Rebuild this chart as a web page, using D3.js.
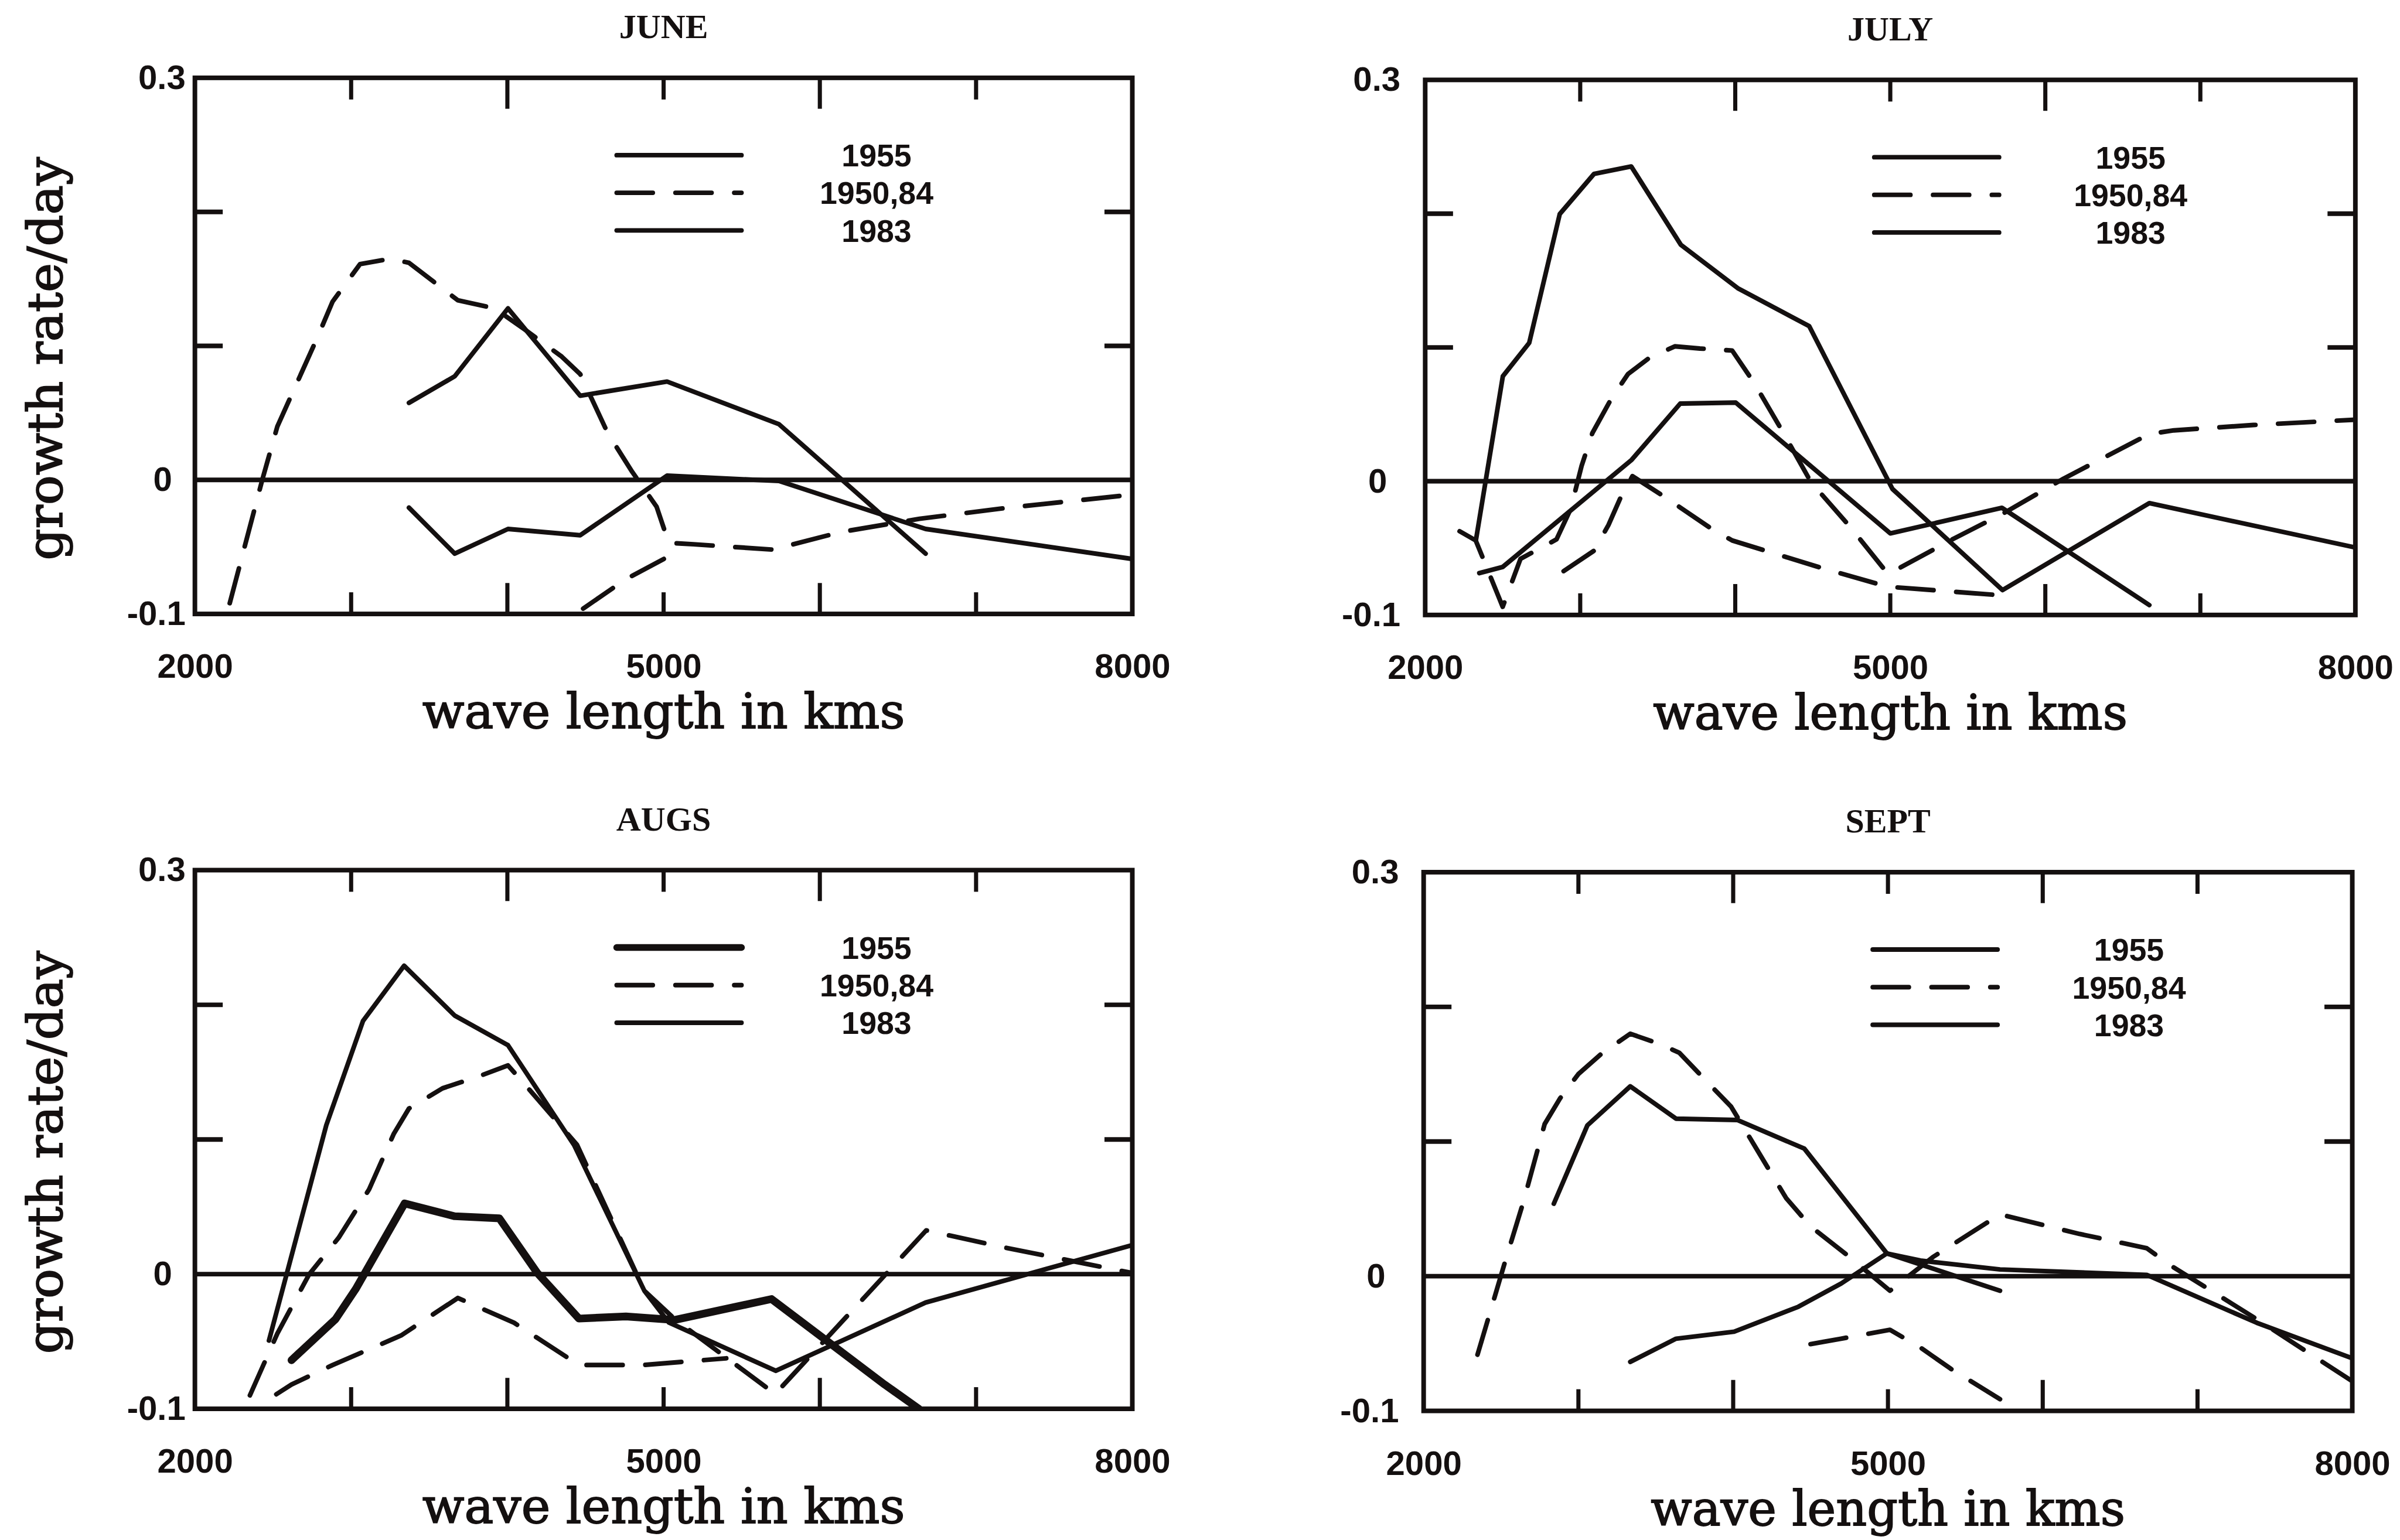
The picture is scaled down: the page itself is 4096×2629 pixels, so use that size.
<!DOCTYPE html>
<html>
<head>
<meta charset="utf-8">
<script src="https://cdn.jsdelivr.net/npm/d3@7"></script>
<style>
  html, body { margin: 0; padding: 0; background: #fff; }
  svg { display: block; }
</style>
</head>
<body>
<svg id="chart"></svg>
<script>
// growth rate vs wave length, four months

const months = ["JUNE", "JULY", "AUGS", "SEPT"];
const legendLabels = ["1955", "1950,84", "1983"];
const xTicks = [3000, 4000, 5000, 6000, 7000];
const xTickLabels = [2000, 5000, 8000];
const yTicks = [0.2, 0.1];
const yTickValues = [0.3, 0, -0.1];
const yTickLabels = ["0.3", "0", "-0.1"];

// JUNE
const june1955 = [[3370,0.0575],[3663,0.0773],[4004,0.128],[4466,0.0628],[5022,0.0734],[5738,0.0416],[6677,-0.055]];
const june1983 = [[3370,-0.0207],[3663,-0.055],[4004,-0.0366],[4466,-0.0413],[5022,0.0032],[5738,-0.0008],[6677,-0.0366],[8000,-0.059]];
const june1950 = [[2223,-0.092],[2431,0],[2528,0.040],[2783,0.106],[2881,0.133],[3057,0.161],[3252,0.165],[3370,0.162],
  [3683,0.134],[3918,0.128],[4114,0.112],[4348,0.092],[4466,0.079],[4642,0.035],[4799,0.006],[4955,-0.020],[5033,-0.047],
  [5190,-0.048],[5699,-0.052],[6129,-0.039],[6638,-0.029],[7186,-0.021],[8000,-0.011]];
const june1984 = [[4485,-0.096],[4759,-0.074],[5033,-0.057]];

// JULY
const july1955 = [[2327,-0.0443],[2501,0.0785],[2671,0.1034],[2868,0.1997],[3089,0.2297],[3329,0.2353],[3649,0.1767],
  [4016,0.1443],[4477,0.1159],[5014,-0.0058],[5724,-0.0814],[6671,-0.0164],[8000,-0.0496]];
const july1983 = [[2349,-0.0687],[2500,-0.0641],[3332,0.016],[3645,0.058],[4003,0.0588],[5000,-0.039],[5720,-0.0199],[6671,-0.0926]];
const july1950 = [[2222,-0.0374],[2326,-0.0443],[2500,-0.0939],[2615,-0.058],[2847,-0.0435],[2939,-0.0206],[3009,0.0115],
  [3078,0.0359],[3205,0.0626],[3309,0.0802],[3448,0.0924],[3610,0.1008],[3772,0.0992],[3980,0.0977],[4119,0.074],
  [4304,0.0374],[4489,-0.0008],[4743,-0.0344],[4986,-0.0695],[5408,-0.043],[5724,-0.0244],[6119,0.002],[6671,0.0353],
  [6829,0.038],[7342,0.042],[8000,0.046]];
const july1984 = [[2893,-0.0672],[3090,-0.0519],[3182,-0.0328],[3263,-0.0115],[3337,0.0038],[3541,-0.0115],[3841,-0.0351],
  [3980,-0.0443],[4235,-0.0534],[4558,-0.0649],[4929,-0.0771],[5044,-0.0794],[5724,-0.0854]];

// AUGS
const aug1955 = [[2618,-0.0639],[2900,-0.0335],[3029,-0.0111],[3342,0.0525],[3663,0.043],[3949,0.0414],[4192,0.0008],
  [4458,-0.033],[4759,-0.0314],[5072,-0.034],[5691,-0.0185],[6415,-0.082],[6634,-0.1]];
const aug1983 = [[2474,-0.0493],[2841,0.1106],[3076,0.188],[3339,0.229],[3663,0.192],[4004,0.170],[4427,0.0958],
  [4877,-0.0124],[5033,-0.0359],[5718,-0.0718],[6677,-0.0211],[8000,0.0216]];
const aug1950 = [[2352,-0.090],[2528,-0.044],[2732,0],[2920,0.027],[3115,0.063],[3272,0.104],[3370,0.123],[3585,0.138],
  [3820,0.147],[4004,0.155],[4133,0.138],[4290,0.117],[4446,0.096],[4877,-0.0124],[5072,-0.0335],[5714,-0.089],
  [6681,0.0325],[7147,0.0206],[8000,0.0008]];
const aug1984 = [[2521,-0.0892],[2618,-0.082],[2881,-0.0675],[3319,-0.0456],[3683,-0.0177],[4043,-0.0361],[4458,-0.0675],
  [4869,-0.0675],[5401,-0.0625]];

// SEPT
const sept1955 = [[2841,0.0538],[3058,0.112],[3335,0.141],[3631,0.117],[4026,0.116],[4460,0.0947],[4993,0.0169],[5724,-0.0108]];
const sept1983 = [[3335,-0.0636],[3631,-0.0464],[4006,-0.0412],[4421,-0.0227],[4697,-0.0055],[4993,0.0169],[5210,0.0116],
  [5724,0.005],[6672,0.001],[7383,-0.0346],[8000,-0.061]];
const sept1950 = [[2348,-0.0583],[2525,0.0103],[2644,0.055],[2782,0.113],[2881,0.132],[2999,0.150],[3157,0.166],[3335,0.180],
  [3512,0.173],[3651,0.166],[3809,0.147],[3986,0.126],[4164,0.092],[4342,0.058],[4500,0.037],[4737,0.0156],[5013,-0.0108],
  [5290,0.0142],[5724,0.0459],[6237,0.0314],[6672,0.0208],[6830,0.0077],[7383,-0.0319],[8000,-0.078]];
const sept1984 = [[4500,-0.0504],[4697,-0.0464],[5013,-0.0398],[5210,-0.053],[5408,-0.0689],[5724,-0.0913]];

var panels = [
  { title: months[0], series: [ {d: june1955, s: "solid"}, {d: june1983, s: "solid"}, {d: june1950, s: "dash"}, {d: june1984, s: "dash"} ] },
  { title: months[1], series: [ {d: july1955, s: "solid"}, {d: july1983, s: "solid"}, {d: july1950, s: "dash"}, {d: july1984, s: "dash"} ] },
  { title: months[2], series: [ {d: aug1955, s: "thick"}, {d: aug1983, s: "solid"}, {d: aug1950, s: "dash"}, {d: aug1984, s: "dash"} ] },
  { title: months[3], series: [ {d: sept1955, s: "solid"}, {d: sept1983, s: "solid"}, {d: sept1950, s: "dash"}, {d: sept1984, s: "dash"} ] }
];

// frame boxes in reference pixels, everything gets scaled by 0.88 at the end
var frames = [
  {x0: 378,  x1: 2196, y0: 151,  y1: 1191, col: 0},
  {x0: 2764, x1: 4568, y0: 155,  y1: 1193, col: 1},
  {x0: 378,  x1: 2196, y0: 1688, y1: 2733, col: 0},
  {x0: 2761, x1: 4562, y0: 1692, y1: 2737, col: 1}
];

var ink = "#141010";
var dashes = "70,44";
var width = 4096, height = 2629, S = 0.88;

var svg = d3.select("#chart")
  .attr("width", width)
  .attr("height", height)
  .style("background", "#fff");

var root = svg.append("g").attr("transform", "scale(" + S + ")");

panels.forEach(function(p, i) {
  var f = frames[i];
  var w = f.x1 - f.x0, h = f.y1 - f.y0;

  var x = d3.scaleLinear().domain([2000, 8000]).range([0, w]);
  var y = d3.scaleLinear().domain([-0.1, 0.3]).range([h, 0]);

  var g = root.append("g").attr("transform", "translate(" + f.x0 + "," + f.y0 + ")");

  g.append("clipPath").attr("id", "clip" + i)
    .append("rect").attr("x", 0).attr("y", 0).attr("width", w).attr("height", h);

  // title
  g.append("text")
    .attr("x", w / 2).attr("y", -77)
    .attr("text-anchor", "middle")
    .style("font-family", "'Liberation Serif', serif")
    .style("font-weight", "bold")
    .style("font-size", "66px")
    .attr("fill", ink)
    .text(p.title);

  // inward ticks, even thousands a bit longer
  var tl = function(t) { return t % 2000 === 0 ? 60 : 42; };
  g.selectAll(".ttop").data(xTicks).enter().append("line")
    .attr("x1", d => x(d)).attr("x2", d => x(d))
    .attr("y1", 0).attr("y2", d => tl(d))
    .attr("stroke", ink).attr("stroke-width", 8);
  g.selectAll(".tbot").data(xTicks).enter().append("line")
    .attr("x1", d => x(d)).attr("x2", d => x(d))
    .attr("y1", h).attr("y2", d => h - tl(d))
    .attr("stroke", ink).attr("stroke-width", 8);
  g.selectAll(".tleft").data(yTicks).enter().append("line")
    .attr("x1", 0).attr("x2", 54)
    .attr("y1", d => y(d)).attr("y2", d => y(d))
    .attr("stroke", ink).attr("stroke-width", 9);
  g.selectAll(".tright").data(yTicks).enter().append("line")
    .attr("x1", w).attr("x2", w - 54)
    .attr("y1", d => y(d)).attr("y2", d => y(d))
    .attr("stroke", ink).attr("stroke-width", 9);

  // zero line
  g.append("line")
    .attr("x1", 0).attr("x2", w)
    .attr("y1", y(0)).attr("y2", y(0))
    .attr("stroke", ink).attr("stroke-width", 9);

  // data lines
  var line = d3.line().x(d => x(d[0])).y(d => y(d[1]));
  var lines = g.append("g").attr("clip-path", "url(#clip" + i + ")");
  p.series.forEach(function(se) {
    lines.append("path")
      .datum(se.d)
      .attr("d", line)
      .attr("fill", "none")
      .attr("stroke", ink)
      .attr("stroke-width", se.s === "thick" ? 15 : 9)
      .attr("stroke-linejoin", "round")
      .attr("stroke-linecap", "round")
      .attr("stroke-dasharray", se.s === "dash" ? dashes : null);
  });

  // frame
  g.append("rect")
    .attr("x", 0).attr("y", 0).attr("width", w).attr("height", h)
    .attr("fill", "none").attr("stroke", ink).attr("stroke-width", 9);

  // tick labels
  var xAxis = d3.axisBottom(x).tickValues(xTickLabels).tickSize(0).tickPadding(77).tickFormat(d3.format("d"));
  var xa = g.append("g").attr("transform", "translate(0," + h + ")").call(xAxis);
  xa.select(".domain").remove();

  var yAxis = d3.axisLeft(y).tickValues(yTickValues).tickSize(0)
    .tickPadding(f.col === 0 ? 18 : 48)
    .tickFormat((d, k) => yTickLabels[k]);
  var ya = g.append("g").call(yAxis);
  ya.select(".domain").remove();
  ya.selectAll("text").attr("dx", d => d === 0 ? -26 : 0);

  g.selectAll(".tick text")
    .attr("fill", ink)
    .style("font-family", "'Liberation Sans', Arial, sans-serif")
    .style("font-weight", "bold")
    .style("font-size", "66px");

  // axis titles
  g.append("text")
    .attr("x", w / 2).attr("y", h + 222)
    .attr("text-anchor", "middle")
    .attr("textLength", f.col === 0 ? 936 : 920)
    .attr("lengthAdjust", "spacingAndGlyphs")
    .style("font-family", "'DejaVu Serif', serif")
    .style("font-size", "94px")
    .attr("fill", ink)
    .attr("stroke", ink).attr("stroke-width", 2)
    .text("wave length in kms");

  if (f.col === 0) {
    g.append("text")
      .attr("transform", "translate(" + (120 - f.x0) + "," + (h / 2 + 25) + ") rotate(-90)")
      .attr("text-anchor", "middle")
      .attr("textLength", 782)
      .attr("lengthAdjust", "spacingAndGlyphs")
      .style("font-family", "'DejaVu Serif', serif")
      .style("font-size", "94px")
      .attr("fill", ink)
      .attr("stroke", ink).attr("stroke-width", 2)
      .text("growth rate/day");
  }

  // legend
  var lx0 = f.col === 0 ? 818 : 871;
  var lx1 = lx0 + 242;
  var tx = f.col === 0 ? 1322 : 1368;
  var ly = [150, 223, 296];
  legendLabels.forEach(function(lab, k) {
    g.append("line")
      .attr("x1", lx0).attr("x2", lx1)
      .attr("y1", ly[k]).attr("y2", ly[k])
      .attr("stroke", ink)
      .attr("stroke-width", (k === 0 && i === 2) ? 13 : 9)
      .attr("stroke-linecap", "round")
      .attr("stroke-dasharray", k === 1 ? dashes : null);
    g.append("text")
      .attr("x", tx).attr("y", ly[k])
      .attr("dy", "0.36em")
      .attr("text-anchor", "middle")
      .style("font-family", "'Liberation Sans', Arial, sans-serif")
      .style("font-weight", "bold")
      .style("font-size", "61px")
      .attr("fill", ink)
      .text(lab);
  });
});
</script>
</body>
</html>
